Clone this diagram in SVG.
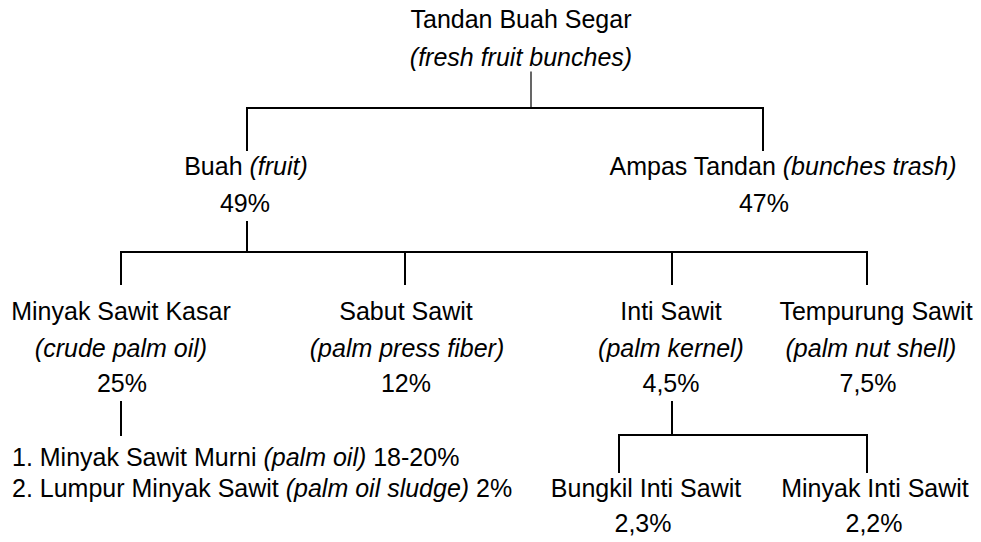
<svg xmlns="http://www.w3.org/2000/svg" width="981" height="542" viewBox="0 0 981 542">
  <style>
    text { font-family: "Liberation Sans", Arial, sans-serif; font-size: 25px; fill: #000; }
    .c { text-anchor: middle; }
    .i { font-style: italic; }
    .ln { stroke: #000; stroke-width: 2; fill: none; stroke-linecap: square; }
    .thin { stroke-width: 1.2; }
  </style>
  <rect width="981" height="542" fill="#fff"/>

  <!-- connectors -->
  <g id="connectors">
    <path class="ln thin" d="M531 72 V108"/>
    <path class="ln" d="M247 150 V108 H763 V150"/>
    <path class="ln" d="M247 222 V252"/>
    <path class="ln" d="M121 284 V252 H867 V284"/>
    <path class="ln" d="M405 252 V284"/>
    <path class="ln" d="M672 252 V284"/>
    <path class="ln" d="M121 402 V435"/>
    <path class="ln" d="M672 402 V435"/>
    <path class="ln" d="M619 472 V435 H867 V472"/>
  </g>

  <g id="tbs">
    <text class="c" x="521" y="28">Tandan Buah Segar</text>
    <text class="c i" x="521" y="66">(fresh fruit bunches)</text>
  </g>

  <g id="buah">
    <text class="c" x="246" y="175">Buah <tspan class="i">(fruit)</tspan></text>
    <text class="c" x="245" y="212">49%</text>
  </g>

  <g id="ampas">
    <text class="c" x="783" y="175">Ampas Tandan <tspan class="i">(bunches trash)</tspan></text>
    <text class="c" x="764" y="212">47%</text>
  </g>

  <g id="msk">
    <text class="c" x="121" y="320">Minyak Sawit Kasar</text>
    <text class="c i" x="121" y="357">(crude palm oil)</text>
    <text class="c" x="122" y="392">25%</text>
  </g>

  <g id="sabut">
    <text class="c" x="406" y="320">Sabut Sawit</text>
    <text class="c i" x="407" y="357">(palm press fiber)</text>
    <text class="c" x="406" y="392">12%</text>
  </g>

  <g id="inti">
    <text class="c" x="671" y="320">Inti Sawit</text>
    <text class="c i" x="671" y="357">(palm kernel)</text>
    <text class="c" x="671" y="392">4,5%</text>
  </g>

  <g id="tempurung">
    <text class="c" x="876" y="320">Tempurung Sawit</text>
    <text class="c i" x="871" y="357">(palm nut shell)</text>
    <text class="c" x="868" y="392">7,5%</text>
  </g>

  <g id="msk-list">
    <text x="12" y="466">1. Minyak Sawit Murni <tspan class="i">(palm oil)</tspan> 18-20%</text>
    <text x="12" y="497">2. Lumpur Minyak Sawit <tspan class="i">(palm oil sludge)</tspan> 2%</text>
  </g>

  <g id="bungkil">
    <text class="c" x="646" y="497">Bungkil Inti Sawit</text>
    <text class="c" x="643" y="532">2,3%</text>
  </g>

  <g id="minyak-inti">
    <text class="c" x="875" y="497">Minyak Inti Sawit</text>
    <text class="c" x="874" y="532">2,2%</text>
  </g>
</svg>
